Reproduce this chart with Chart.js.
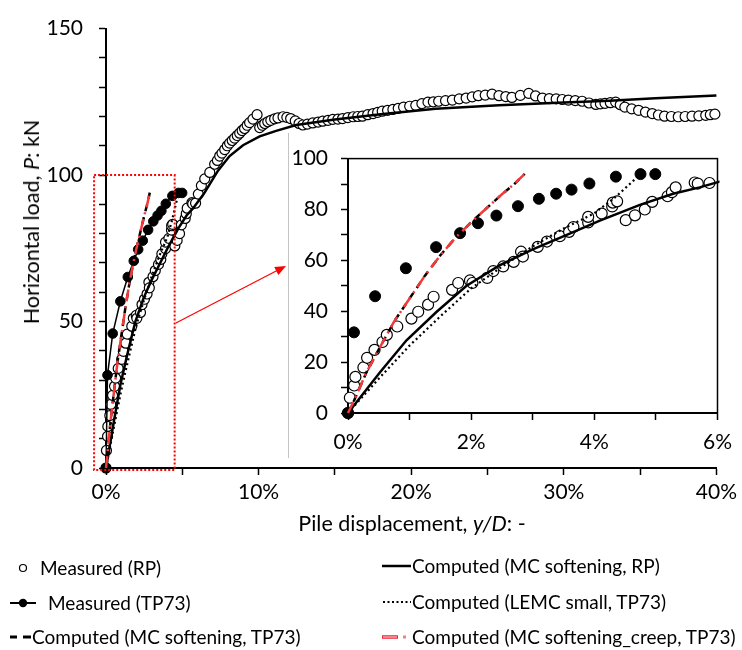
<!DOCTYPE html>
<html><head><meta charset="utf-8">
<script src="https://cdn.jsdelivr.net/npm/chart.js@4/dist/chart.umd.min.js"></script>
<style>
body{margin:0;background:#fff;font-family:Lato,"Open Sans",sans-serif;color:#000;}
#wrap{position:relative;width:742px;height:650px;overflow:hidden;background:#fff;}
#main{position:absolute;left:0;top:0;}
#insetBox{position:absolute;left:288px;top:133px;width:453px;height:325px;background:#fff;border-left:1px solid #c4c4c4;}
#inset{position:absolute;left:0;top:0;}
.t{position:absolute;white-space:nowrap;font-size:21.5px;line-height:24px;transform:translate(-50%,-50%);}
.lg{position:absolute;white-space:nowrap;font-size:19px;line-height:22px;transform:translateY(-50%);}
.sym{position:absolute;}
</style>
</head><body>
<div id="wrap">
<canvas id="main" width="742" height="650"></canvas>
<div id="insetBox"><canvas id="inset" width="453" height="325"></canvas></div>
<div class="t" style="left:31px;top:222px;transform:translate(-50%,-50%) rotate(-90deg);">Horizontal load, <i>P</i>: kN</div>
<div class="t" style="left:412px;top:523px;">Pile displacement, <i>y/D</i>: -</div>

<svg class="sym" style="left:0;top:550px" width="60" height="100">
  <circle cx="23" cy="18" r="3.5" fill="#fff" stroke="#000" stroke-width="1.2"/>
  <line x1="10" y1="53" x2="36" y2="53" stroke="#000" stroke-width="2"/>
  <circle cx="23" cy="53" r="4.2" fill="#000"/>
  <line x1="10" y1="87" x2="17" y2="87" stroke="#000" stroke-width="3"/>
  <line x1="23" y1="87" x2="31" y2="87" stroke="#000" stroke-width="3"/>
</svg>
<svg class="sym" style="left:370px;top:550px" width="45" height="100">
  <line x1="12" y1="16" x2="41" y2="16" stroke="#000" stroke-width="2.5"/>
  <line x1="13" y1="52" x2="41" y2="52" stroke="#000" stroke-width="2" stroke-dasharray="2,2.5"/>
  <line x1="12" y1="87" x2="28" y2="87" stroke="#e23" stroke-width="3.5"/>
  <line x1="13" y1="87" x2="27" y2="87" stroke="#f6a5a5" stroke-width="1.5"/>
  <line x1="33" y1="87" x2="36" y2="87" stroke="#f08080" stroke-width="3"/>
</svg>
<div class="lg" style="left:40px;top:568px;">Measured (RP)</div>
<div class="lg" style="left:48px;top:603px;">Measured (TP73)</div>
<div class="lg" style="left:32px;top:637px;">Computed (MC softening, TP73)</div>
<div class="lg" style="left:412px;top:566px;">Computed (MC softening, RP)</div>
<div class="lg" style="left:412px;top:602px;">Computed (LEMC small, TP73)</div>
<div class="lg" style="left:412px;top:637px;">Computed (MC softening_creep, TP73)</div>
</div>
<script>
// ---------------- data (y/D in %, P in kN) ----------------
const rpMeasX = [0,0.03,0.10,0.12,0.25,0.31,0.43,0.56,0.63,0.80,1.03,1.14,1.30,1.39,1.69,1.79,1.98,2.02,2.26,2.36,2.52,2.69,2.81,2.84,3.08,3.23,3.44,3.59,3.66,3.90,3.90,4.12,4.29,4.30,4.37,4.51,4.66,4.82,4.94,5.19,5.26,5.32,5.63,5.68,5.87,
 6.05,6.25,6.47,6.8,7.12,7.3,7.45,7.6,7.78,7.95,8.1,8.27,8.43,8.6,8.76,8.92,9.08,9.25,9.41,9.63,9.9,10.07,10.25,10.4,10.6,10.8,11.05,11.27,11.6,11.85,12.1,12.4,12.65,12.9,
 13.2,13.55,13.9,14.2,14.55,14.86,15.2,15.5,15.85,16.2,16.5,16.8,17.15,17.5,17.8,18.1,18.45,18.8,19.15,19.5,19.9,20.3,20.7,21.1,21.45,21.8,22.25,22.7,23.15,23.6,24.0,24.4,24.85,25.3,25.75,26.2,26.6,27.15,27.7,28.15,28.6,29.05,29.5,29.9,30.3,30.75,31.2,31.65,32.1,32.4,32.7,33.05,33.4,33.7,34.0,34.45,34.9,35.35,35.8,36.2,36.6,37.05,37.5,37.95,38.4,38.85,39.3,39.6,39.9];
const rpMeasP = [0,6.0,10.8,14.2,17.9,21.7,24.8,27.9,30.7,34.0,37.1,39.8,42.6,45.7,48.4,51.1,52.1,51.1,53.1,55.8,57.6,59.4,63.4,61.5,65.3,67.4,69.5,71.2,73.1,74.9,77.1,78.4,81.2,82.7,83.2,75.8,77.7,80.0,83.0,85.2,86.8,88.7,90.6,90.2,90.4,
 93.5,96.4,98.7,100.9,103.7,105,106.5,107.5,108.7,110,110.9,111.8,112.6,113.5,114.3,115.2,115.9,117,117.9,119.1,120.6,116.2,117,117.6,118.2,118.7,119.2,119.5,119.9,119.7,119.3,118.5,117.6,117.1,
 117.4,117.8,118.1,118.4,118.7,119,119.1,119.3,119.6,119.9,120,120.1,120.6,121,121.4,121.8,122.1,122.4,122.8,123.2,123.5,123.8,124.4,124.9,125,125.2,125.4,125.6,126,126.3,126.7,127.1,127.3,127.6,127.1,126.8,126.5,127.2,127.9,127,126.3,126.1,126,125.8,125.6,125.4,125.2,124.6,124.1,124.3,124.5,124.7,124.9,124,123.2,122.6,122.1,121.5,121,120.5,120.1,120,119.9,120,120.1,120.2,120.4,120.6,120.8];
const tpMeasX = [0,0.097,0.44,0.94,1.43,1.82,2.11,2.41,2.76,3.10,3.38,3.63,3.92,4.35,4.75,4.99];
const tpMeasP = [0,31.7,45.9,56.9,65.2,70.7,74.6,77.6,81.3,84.2,86.2,87.8,90.2,92.9,93.9,93.9];
const mcRpX = [0,0.52,0.95,1.44,1.92,2.46,3.0,3.6,4.09,4.74,5.28,5.71,6.4,7.34,8.1,8.98,10.07,11.15,12.46,15,18,21.6,25.75,30,33,36,40];
const mcRpP = [0,16,28.6,39.8,49.9,58,64.3,70.5,75.6,81.8,86.2,88.7,93.5,101.5,106.5,110.2,113.2,115.1,117.1,119,120.8,122.6,123.8,124.8,125.4,126.2,127.2];
const lemcX = [0,0.5,1.0,1.5,2.0,2.5,3.0,3.5,4.0,4.35,4.71];
const lemcP = [0,13.5,26.5,38,49,57.5,65.5,72.5,78.5,85,93];
const mcTpX = [0,0.1,0.3,0.5,0.75,1.0,1.25,1.5,1.75,2.0,2.25,2.5,2.7,2.87];
const mcTpP = [0,5,16,25,36,45,54,62,69,75,80.5,86,90,94];
const creepX = [0,0.1,0.3,0.5,0.75,1.0,1.25,1.5,1.75,2.0,2.25,2.5,2.7,2.87];
const creepP = [0,5,16,25,36,45,54,62,69,75,80.5,86,90,94];
// zoom annotation (data coords of main chart)
const zoomBoxX = [-0.78, 4.5], zoomBoxP = [-0.7, 100];
const arrowX = [4.58, 11.8], arrowP = [49.5, 69];

const pts = (xs, ys) => xs.map((x, i) => ({x, y: ys[i]}));
const FONT = {family: 'Lato', size: 21};

function axes(xMax, xStep, xLab, yMax, yStep, yLab, yWidth, xHeight, yPad, xPad) {
  const common = {
    grid: {display: true, drawOnChartArea: false, drawTicks: true, tickLength: 7, tickColor: '#000', tickWidth: 1.5},
    border: {display: true, color: '#000', width: 2}
  };
  return {
    x: Object.assign({}, common, {type: 'linear', min: 0, max: xMax,
      ticks: {stepSize: xStep, autoSkip: false, maxRotation: 0, color: '#000', font: FONT, padding: xPad,
        callback: v => (Math.round(v * 100) % Math.round(xLab * 100) === 0) ? v + '%' : ''},
      afterFit: s => { s.height = xHeight; }}),
    y: Object.assign({}, common, {type: 'linear', min: 0, max: yMax,
      ticks: {stepSize: yStep, autoSkip: false, color: '#000', font: FONT, padding: yPad,
        callback: v => (v % yLab === 0) ? v : ''},
      afterFit: s => { s.width = yWidth; }})
  };
}

function datasets(inset) {
  const keep = p => !inset || (p.x <= 6 && p.y <= 100);
  return [
    {label: 'Computed (MC softening_creep, TP73)', data: pts(creepX, creepP), showLine: true, borderColor: '#f23a3a',
      borderWidth: 2.5, borderDash: [12, 5, 2, 5], pointRadius: 0, order: 0, clip: inset ? 2 : false},
    {label: 'Computed (MC softening, TP73)', data: pts(mcTpX, mcTpP), showLine: true, borderColor: '#000',
      borderWidth: 2.5, borderDash: [7, 6], pointRadius: 0, order: 1, clip: inset ? 2 : false},
    {label: 'Computed (LEMC small, TP73)', data: pts(lemcX, lemcP), showLine: true, borderColor: '#000',
      borderWidth: 2.2, borderDash: [2, 3], pointRadius: 0, order: 2, clip: inset ? 2 : false},
    {label: 'Computed (MC softening, RP)', data: pts(mcRpX, mcRpP), showLine: true, borderColor: '#000',
      borderWidth: 2.5, pointRadius: 0, order: 3, clip: inset ? 2 : false},
    {label: 'Measured (TP73)', data: pts(tpMeasX, tpMeasP).filter(keep), showLine: !inset, borderColor: '#000',
      borderWidth: 1.5, backgroundColor: '#000', pointBackgroundColor: '#000', pointBorderColor: '#000',
      pointRadius: inset ? 5.5 : 4.8, pointBorderWidth: 1, order: 4, clip: false},
    {label: 'Measured (RP)', data: pts(rpMeasX, rpMeasP).filter(keep), showLine: false,
      pointBackgroundColor: '#fff', pointBorderColor: '#000', pointBorderWidth: 1.2,
      pointRadius: inset ? 5.5 : 5, order: 5, clip: false}
  ];
}

const zoomPlugin = {
  id: 'zoomMark',
  afterDatasetsDraw(chart) {
    const {ctx, scales: {x, y}} = chart;
    ctx.save();
    ctx.strokeStyle = '#ff0000';
    ctx.lineWidth = 2;
    ctx.setLineDash([2, 2]);
    const x0 = x.getPixelForValue(zoomBoxX[0]), x1 = x.getPixelForValue(zoomBoxX[1]);
    const y0 = y.getPixelForValue(zoomBoxP[0]), y1 = y.getPixelForValue(zoomBoxP[1]);
    ctx.strokeRect(x0, y1, x1 - x0, y0 - y1);
    ctx.setLineDash([]);
    const ax = x.getPixelForValue(arrowX[0]), ay = y.getPixelForValue(arrowP[0]);
    const bx = x.getPixelForValue(arrowX[1]), by = y.getPixelForValue(arrowP[1]);
    const ang = Math.atan2(by - ay, bx - ax);
    ctx.lineWidth = 1.2;
    ctx.beginPath(); ctx.moveTo(ax, ay);
    ctx.lineTo(bx - 9 * Math.cos(ang), by - 9 * Math.sin(ang)); ctx.stroke();
    ctx.fillStyle = '#ff0000';
    ctx.beginPath();
    ctx.moveTo(bx, by);
    ctx.lineTo(bx - 11 * Math.cos(ang) + 4.5 * Math.sin(ang), by - 11 * Math.sin(ang) - 4.5 * Math.cos(ang));
    ctx.lineTo(bx - 11 * Math.cos(ang) - 4.5 * Math.sin(ang), by - 11 * Math.sin(ang) + 4.5 * Math.cos(ang));
    ctx.closePath(); ctx.fill();
    ctx.restore();
  }
};
const framePlugin = {
  id: 'frame',
  beforeDatasetsDraw(chart) {
    const {ctx, chartArea: a} = chart;
    ctx.save();
    ctx.strokeStyle = '#000'; ctx.lineWidth = 1.5;
    ctx.strokeRect(a.left, a.top, a.right - a.left, a.bottom - a.top);
    ctx.restore();
  }
};

const baseOpts = {
  responsive: false, animation: false, devicePixelRatio: 1,
  plugins: {legend: {display: false}, tooltip: {enabled: false}}
};

new Chart(document.getElementById('main'), {
  type: 'scatter',
  data: {datasets: datasets(false)},
  options: Object.assign({}, baseOpts, {
    layout: {padding: {top: 20, right: 24, left: 0, bottom: 0}},
    scales: axes(40, 5, 10, 150, 10, 50, 106, 182, 16, 5)
  }),
  plugins: [zoomPlugin]
});

new Chart(document.getElementById('inset'), {
  type: 'scatter',
  data: {datasets: datasets(true)},
  options: Object.assign({}, baseOpts, {
    layout: {padding: {top: 14, right: 24, left: 0, bottom: 0}},
    scales: axes(6, 1, 2, 100, 10, 20, 59, 45, 13, 10)
  }),
  plugins: [framePlugin]
});
</script>
</body></html>
